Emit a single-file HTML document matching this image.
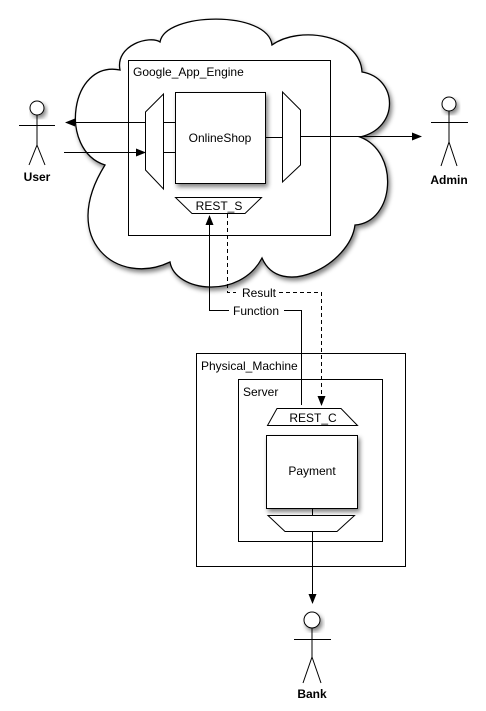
<!DOCTYPE html>
<html><head><style>html,body{margin:0;padding:0;background:#fff}svg{display:block}</style></head><body>
<svg width="486" height="711" viewBox="0 0 486 711" xmlns="http://www.w3.org/2000/svg" font-family="Liberation Sans, sans-serif">
<defs>
<filter id="sh" x="-20%" y="-20%" width="150%" height="150%"><feGaussianBlur in="SourceAlpha" stdDeviation="2.5"/><feOffset dx="2" dy="3"/><feComponentTransfer><feFuncA type="linear" slope="0.5"/></feComponentTransfer><feMerge><feMergeNode/><feMergeNode in="SourceGraphic"/></feMerge></filter>
<marker id="ar" markerWidth="10" markerHeight="8" refX="9" refY="4" orient="auto" markerUnits="userSpaceOnUse"><path d="M0,0 L10,4 L0,8 Z" fill="#000"/></marker>
</defs>
<path filter="url(#sh)" d="M160,42 C165,12 268,10 272,45 C300,25 360,35 362,72 C398,78 400,128 360,137 C400,152 395,222 355,225 C350,265 280,300 262,258 C240,300 175,292 170,262 C118,287 58,240 105,165 C58,150 70,60 120,70 C115,45 150,35 160,42 Z" fill="#fff" stroke="#000" stroke-width="1.3"/>
<rect x="128.5" y="60.5" width="202" height="175" fill="#fff" stroke="#000"/>
<text x="133" y="76" font-size="12">Google_App_Engine</text>
<rect x="175.5" y="92.5" width="90" height="91" fill="#fff" stroke="#000" filter="url(#sh)"/>
<text x="220" y="142" font-size="12" text-anchor="middle">OnlineShop</text>
<path d="M145.5,112 L163.5,94 L163.5,189 L145.5,170 Z" fill="#fff" stroke="#000"/>
<path d="M282.5,92 L300.5,110 L300.5,165 L282.5,182 Z" fill="#fff" stroke="#000"/>
<path d="M175.5,197.5 L261.5,197.5 L245,213.5 L192,213.5 Z" fill="#fff" stroke="#000"/>
<text x="219" y="210" font-size="12" text-anchor="middle">REST_S</text>
<g stroke="#000" fill="none">
<line x1="175" y1="122.5" x2="163" y2="122.5"/>
<line x1="145" y1="122.5" x2="66" y2="122.5" marker-end="url(#ar)"/>
<line x1="175" y1="152.5" x2="163" y2="152.5"/>
<line x1="64" y1="152.5" x2="145" y2="152.5" marker-end="url(#ar)"/>
<line x1="265" y1="137.5" x2="282" y2="137.5"/>
<line x1="300" y1="136.5" x2="421" y2="136.5" marker-end="url(#ar)"/>
<path d="M301.5,405 L301.5,310.5 L284,310.5 M229,310.5 L209.5,310.5 L209.5,216" marker-end="url(#ar)"/>
<path d="M227.5,214 L227.5,292.5 L236,292.5 M279,292.5 L321.5,292.5 L321.5,405" stroke-dasharray="4,3" marker-end="url(#ar)"/>
</g>
<text x="242" y="297" font-size="12">Result</text>
<text x="233" y="315" font-size="12">Function</text>
<rect x="196.5" y="353.5" width="209" height="213" fill="none" stroke="#000"/>
<text x="201" y="370" font-size="12">Physical_Machine</text>
<rect x="238.5" y="379.5" width="144" height="162" fill="none" stroke="#000"/>
<text x="243" y="396" font-size="12">Server</text>
<path d="M277,408.5 L341,408.5 L357.5,425.5 L267.5,425.5 Z" fill="#fff" stroke="#000"/>
<text x="313" y="422" font-size="12" text-anchor="middle">REST_C</text>
<rect x="266.5" y="435.5" width="91" height="73" fill="#fff" stroke="#000" filter="url(#sh)"/>
<text x="312" y="475" font-size="12" text-anchor="middle">Payment</text>
<path d="M268,515.5 L354.5,515.5 L337,531.5 L285,531.5 Z" fill="#fff" stroke="#000"/>
<g stroke="#000" fill="none">
<line x1="312.5" y1="508" x2="312.5" y2="515"/>
<line x1="312.5" y1="531" x2="312.5" y2="603" marker-end="url(#ar)"/>
</g>
<g stroke="#000" fill="#fff">
<circle cx="37" cy="108" r="7" filter="url(#sh)"/>
<path d="M19,125.5 H55 M37,115 V145 L29,165 M37,145 L45,165" fill="none"/>
<circle cx="449" cy="104" r="7" filter="url(#sh)"/>
<path d="M431,122.5 H468 M449,111 V142 L441,166 M449,142 L457,166" fill="none"/>
<circle cx="312" cy="620" r="8" filter="url(#sh)"/>
<path d="M294,639.5 H331 M312,628 V657 L303,683 M312,657 L321,683" fill="none"/>
</g>
<text x="37" y="181" font-size="12" font-weight="bold" text-anchor="middle">User</text>
<text x="449" y="184" font-size="12" font-weight="bold" text-anchor="middle">Admin</text>
<text x="312" y="698" font-size="12" font-weight="bold" text-anchor="middle">Bank</text>
</svg>
</body></html>
